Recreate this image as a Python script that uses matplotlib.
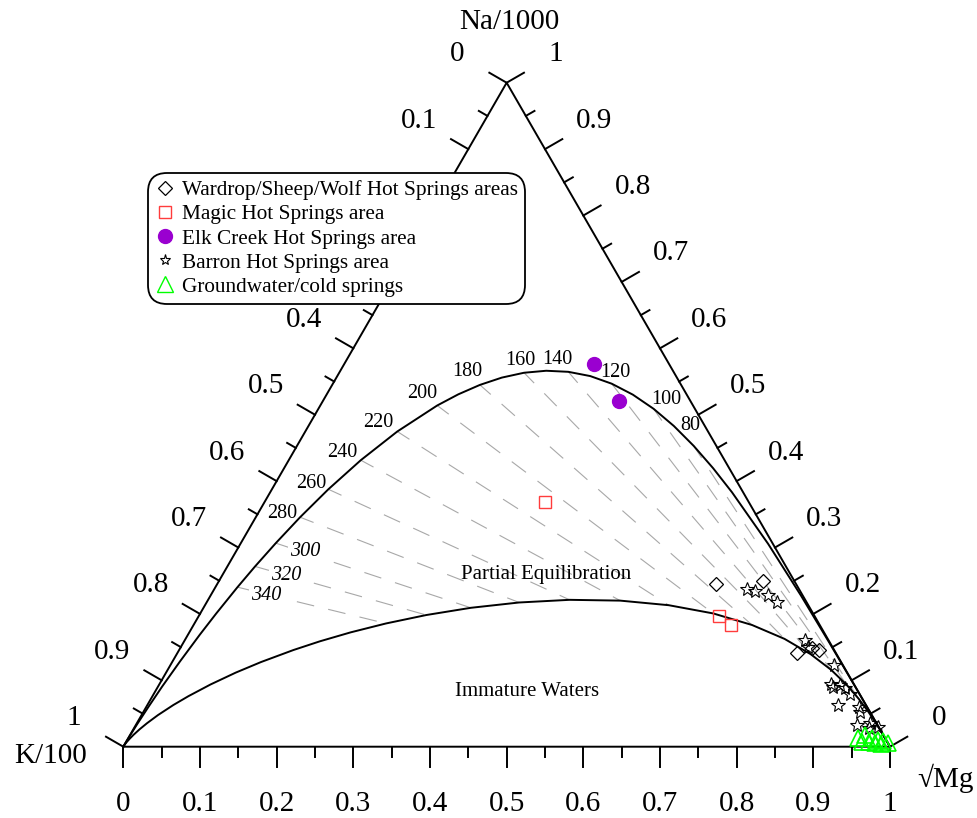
import numpy as np
import matplotlib
matplotlib.use("Agg")
import matplotlib.pyplot as plt
from matplotlib.lines import Line2D

# Giggenbach Na-K-Mg diagram, values as fractions of (Na/1000, K/100, sqrt Mg)

# full equilibrium curve, from Mg corner to K corner (temperature, Na, Mg)
up_T = [-999, -120, -80, -50, -25, 0, 20, 40, 60, 70, 80, 90, 100, 110, 120, 130, 140, 150, 160, 170, 180,
        190, 200, 220, 240, 260, 280, 300, 320, 340, 370, 400, 450, 520, 620, 800, 1100, 1800, 4000, 9999]
up_na = [0.0, 0.0008, 0.0106, 0.0381, 0.0846, 0.1557, 0.2273, 0.3056, 0.3832, 0.4195, 0.4530, 0.4830,
         0.5089, 0.5302, 0.5467, 0.5582, 0.5646, 0.5662, 0.5632, 0.5559, 0.5449, 0.5307, 0.5139, 0.4747,
         0.4315, 0.3877, 0.3456, 0.3066, 0.2715, 0.2403, 0.2007, 0.1685, 0.1282, 0.0909, 0.0600, 0.0339,
         0.0180, 0.0083, 0.0037, 0.0]
up_mg = [1.0, 0.9992, 0.9894, 0.9619, 0.9153, 0.8435, 0.7704, 0.6882, 0.6023, 0.5595, 0.5175, 0.4766,
         0.4372, 0.3995, 0.3637, 0.3299, 0.2981, 0.2685, 0.2411, 0.2158, 0.1927, 0.1716, 0.1525, 0.1200,
         0.0940, 0.0736, 0.0578, 0.0456, 0.0361, 0.0288, 0.0209, 0.0154, 0.0097, 0.0054, 0.0028, 0.0011,
         0.0004, 0.0001, 0.0, 0.0]

# boundary of immature waters
lo_T = [-999, -20, 0, 20, 40, 60, 80, 100, 120, 140, 160, 180, 200, 220, 240, 260, 280, 300, 320, 340, 360,
        380, 400, 430, 460, 500, 550, 600, 680, 780, 900, 1100, 1400, 2000, 3500, 10000, 99999]
lo_na = [0.0, 0.0094, 0.0161, 0.0255, 0.0379, 0.0534, 0.0718, 0.0928, 0.1157, 0.1393, 0.1624, 0.1833,
         0.2007, 0.2131, 0.2200, 0.2212, 0.2172, 0.2092, 0.1983, 0.1856, 0.1722, 0.1587, 0.1456, 0.1275,
         0.1116, 0.0937, 0.0761, 0.0628, 0.0476, 0.0353, 0.0263, 0.0179, 0.0119, 0.0072, 0.0041, 0.0024, 0.0]
lo_mg = [1.0, 0.9906, 0.9838, 0.9743, 0.9613, 0.9446, 0.9235, 0.8974, 0.8654, 0.8269, 0.7812, 0.7284,
         0.6691, 0.6049, 0.5381, 0.4715, 0.4077, 0.3488, 0.2960, 0.2498, 0.2104, 0.1770, 0.1491, 0.1159,
         0.0909, 0.0669, 0.0469, 0.0339, 0.0214, 0.0132, 0.0082, 0.0044, 0.0023, 0.0010, 0.0004, 0.0002, 0.0]

iso_T = [80, 100, 120, 140, 160, 180, 200, 220, 240, 260, 280, 300, 320, 340]

# samples (Na, Mg)
wardrop_na = [0.245, 0.250, 0.141, 0.148, 0.146]
wardrop_mg = [0.651, 0.710, 0.808, 0.824, 0.834]
magic_na = [0.369, 0.197, 0.183]
magic_mg = [0.366, 0.679, 0.701]
elk_na = [0.576, 0.520]
elk_mg = [0.326, 0.386]
barron_na = [0.237, 0.235, 0.228, 0.218, 0.161, 0.150, 0.123, 0.095, 0.093, 0.088, 0.080, 0.063,
             0.060, 0.053, 0.033, 0.035, 0.030, 0.028, 0.090]
barron_mg = [0.695, 0.706, 0.727, 0.744, 0.809, 0.818, 0.865, 0.876, 0.888, 0.897, 0.908, 0.901,
             0.929, 0.935, 0.940, 0.956, 0.970, 0.958, 0.881]
gw_na = [0.013, 0.018, 0.013, 0.010, 0.009, 0.006, 0.007, 0.007, 0.006, 0.004]
gw_mg = [0.952, 0.959, 0.970, 0.979, 0.987, 0.994, 0.960, 0.969, 0.978, 0.986]

H = np.sqrt(3) / 2
S = 766.7  # pixels per unit side


def xy(na, mg):
    na = np.asarray(na, float)
    mg = np.asarray(mg, float)
    return mg + na / 2, na * H


def pix(px, py):
    return (px - 123.3) / S, (746.7 - py) / S


serif = ["Liberation Serif", "DejaVu Serif"]
plt.rcParams["font.family"] = serif

fig = plt.figure(figsize=(9.77, 8.18), dpi=100)
ax = fig.add_axes([0, 0, 1, 1])
ax.set_xlim(-123.3 / S, (977 - 123.3) / S)
ax.set_ylim(-(818 - 746.7) / S, 746.7 / S)
ax.axis("off")

# triangle
ax.plot([0, 1, 0.5, 0], [0, 0, H, 0], color="black", lw=1.4, zorder=3)

# ticks and tick labels
major = 20 / S
minor = 10 / S
off = 57 / S
nl = np.array([-H, 0.5])   # left side outward normal
nr = np.array([H, 0.5])    # right side outward normal
hidden_left = [4, 6]       # 0.2 and 0.3 sit behind the legend
for i in range(21):
    v = i / 20
    ln = major if i % 2 == 0 else minor
    # bottom
    ax.plot([v, v], [0, -ln], color="black", lw=1.4)
    # left (K/100, 0 at top)
    p = np.array([0.5 - 0.5 * v, H * (1 - v)])
    ax.plot([p[0], p[0] + nl[0] * ln], [p[1], p[1] + nl[1] * ln], color="black", lw=1.4)
    # right (Na/1000, 0 at bottom)
    q = np.array([1 - 0.5 * v, H * v])
    ax.plot([q[0], q[0] + nr[0] * ln], [q[1], q[1] + nr[1] * ln], color="black", lw=1.4)
    if i % 2 == 0:
        lab = "%g" % round(v, 1)
        ax.text(v, -off, lab, ha="center", va="center", fontsize=21)
        if i not in hidden_left:
            ax.text(p[0] + nl[0] * off, p[1] + nl[1] * off, lab, ha="center", va="center", fontsize=21)
        ax.text(q[0] + nr[0] * off, q[1] + nr[1] * off, lab, ha="center", va="center", fontsize=21)

ax.text(*pix(509, 22), "Na/1000", ha="center", va="center", fontsize=21)
ax.text(*pix(51, 756), "K/100", ha="center", va="center", fontsize=21)
ax.text(*pix(945, 778), "\u221aMg", ha="center", va="center", fontsize=21)

# curves
ux, uy = xy(up_na, up_mg)
lx, ly = xy(lo_na, lo_mg)
ax.plot(ux, uy, color="black", lw=1.4, zorder=3)
ax.plot(lx, ly, color="black", lw=1.4, zorder=3)

# isotherms between the two curves
iso_pos = {80: (690, 425), 100: (666, 399), 120: (615, 372), 140: (557, 359), 160: (520, 360),
           180: (467, 371), 200: (422, 393), 220: (378, 422), 240: (342, 452), 260: (311, 483),
           280: (282, 513), 300: (305, 552), 320: (286, 575), 340: (266, 595)}
for T in iso_T:
    a = up_T.index(T)
    b = lo_T.index(T)
    x0, y0 = xy(up_na[a], up_mg[a])
    x1, y1 = xy(lo_na[b], lo_mg[b])
    ax.plot([x0, x1], [y0, y1], color="#a8a8a8", lw=0.8, linestyle=(3, (16, 13)), zorder=1)
    if T >= 300:
        ax.text(*pix(*iso_pos[T]), str(T), ha="center", va="center", fontsize=14.5, style="italic",
                bbox=dict(facecolor="white", edgecolor="none", pad=1), zorder=2)
    else:
        ax.text(*pix(*iso_pos[T]), str(T), ha="center", va="center", fontsize=14.5, zorder=2)

ax.text(*pix(546, 575), "Partial Equilibration", ha="center", va="center", fontsize=15, zorder=2)
ax.text(*pix(527, 691), "Immature Waters", ha="center", va="center", fontsize=15)

# samples
ax.plot(*xy(wardrop_na, wardrop_mg), ls="none", marker="D", ms=6.8, mfc="none", mec="black", mew=0.9, zorder=5)
ax.plot(*xy(magic_na, magic_mg), ls="none", marker="s", ms=9, mfc="none", mec="#ff3c3c", mew=1.0, zorder=5)
ax.plot(*xy(elk_na, elk_mg), ls="none", marker="o", ms=10, mfc="#9a00d0", mec="#9a00d0", zorder=5)
ax.plot(*xy(barron_na, barron_mg), ls="none", marker="*", ms=10, mfc="none", mec="black", mew=0.8, zorder=5)
ax.plot(*xy(gw_na, gw_mg), ls="none", marker="^", ms=12, mfc="none", mec="#00ff00", mew=1.2, zorder=6)

handles = [
    Line2D([], [], ls="none", marker="D", ms=6.8, mfc="none", mec="black", mew=0.9),
    Line2D([], [], ls="none", marker="s", ms=9, mfc="none", mec="#ff3c3c", mew=1.0),
    Line2D([], [], ls="none", marker="o", ms=10, mfc="#9a00d0", mec="#9a00d0"),
    Line2D([], [], ls="none", marker="*", ms=8, mfc="none", mec="black", mew=0.8),
    Line2D([], [], ls="none", marker="^", ms=11, mfc="none", mec="#00ff00", mew=1.0),
]
labels = ["Wardrop/Sheep/Wolf Hot Springs areas", "Magic Hot Springs area", "Elk Creek Hot Springs area",
          "Barron Hot Springs area", "Groundwater/cold springs"]
leg = ax.legend(handles, labels, loc="upper left", bbox_to_anchor=(148 / 977, 1 - 173 / 818),
                bbox_transform=fig.transFigure, borderaxespad=0, fontsize=15.3, handlelength=0.9,
                handletextpad=0.35, labelspacing=0.2, borderpad=0.35, frameon=True, fancybox=True,
                framealpha=1, edgecolor="black")
leg.get_frame().set_linewidth(1.3)
leg.get_frame().set_boxstyle("round", pad=0, rounding_size=0.9)
leg.set_zorder(10)

fig.savefig("out.png", dpi=100)
